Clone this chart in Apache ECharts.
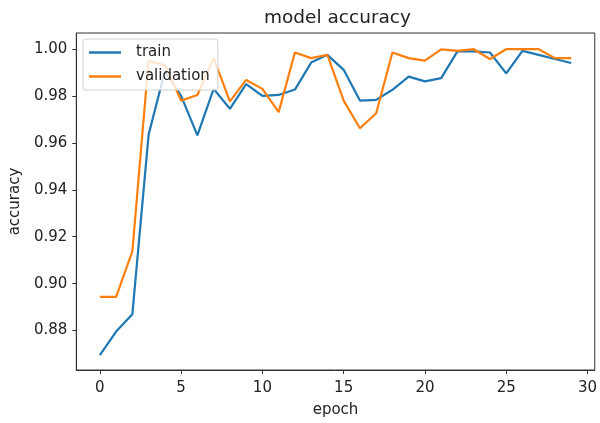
<!DOCTYPE html>
<html>
<head>
<meta charset="utf-8">
<script src="https://cdn.jsdelivr.net/npm/echarts@6/dist/echarts.min.js"></script>
<style>
html,body{margin:0;padding:0;background:#fff;}
#chart{width:600px;height:423px;}
</style>
</head>
<body>
<div id="chart"></div>
<script>
const epochs = Array.from({length: 30}, (_, i) => i);
const trainAcc = [0.8695, 0.8796, 0.8870, 0.9635, 0.9905, 0.9800, 0.9632, 0.9830, 0.9745, 0.9850,
  0.9800, 0.9804, 0.9827, 0.9942, 0.9975, 0.9911, 0.9780, 0.9783, 0.9826, 0.9882,
  0.9862, 0.9876, 0.9990, 0.9990, 0.9985, 0.9896, 0.9992, 0.9975, 0.9957, 0.9940];
const valAcc = [0.8944, 0.8944, 0.9138, 0.9950, 0.9930, 0.9780, 0.9804, 0.9961, 0.9777, 0.9868,
  0.9830, 0.9731, 0.9985, 0.9961, 0.9975, 0.9780, 0.9662, 0.9726, 0.9985, 0.9961,
  0.9950, 0.9998, 0.9992, 0.9999, 0.9957, 0.9999, 0.9999, 0.9999, 0.9961, 0.9961];
const xTicks = [0, 5, 10, 15, 20, 25, 30];
const yTicks = [0.88, 0.90, 0.92, 0.94, 0.96, 0.98, 1.00];
const titleText = 'model accuracy';
const xName = 'epoch';
const yName = 'accuracy';
const seriesNames = ['train', 'validation'];

const FONT = 'DejaVu Sans';
const chart = echarts.init(document.getElementById('chart'), null, {renderer: 'canvas'});
const pair = arr => arr.map((v, i) => [epochs[i], v]);
chart.setOption({
  animation: false,
  backgroundColor: '#fff',
  textStyle: {fontFamily: FONT},
  grid: {left: 76, right: 2, top: 33, bottom: 50.5, show: true, borderColor: '#333', borderWidth: 1, backgroundColor: 'transparent'},
  graphic: [{
    type: 'text', x: 337.5, y: 18,
    style: {text: titleText, font: '18.5px "DejaVu Sans"', fill: '#222', align: 'center', verticalAlign: 'middle'}
  }],
  legend: {
    orient: 'vertical', left: 83, top: 39,
    data: seriesNames,
    icon: 'rect', itemWidth: 32, itemHeight: 2.5, itemGap: 9,
    padding: [6, 8, 6, 6],
    borderColor: '#d0d0d0', borderWidth: 1, borderRadius: 3,
    backgroundColor: 'rgba(255,255,255,0.8)',
    textStyle: {fontFamily: FONT, fontSize: 15, color: '#222', padding: [0, 0, 0, 10]}
  },
  xAxis: {
    type: 'value', min: -1.45, max: 30.45,
    name: xName, nameLocation: 'middle', nameGap: 33,
    nameTextStyle: {fontFamily: FONT, fontSize: 15, color: '#222'},
    splitLine: {show: false},
    axisLine: {show: true, onZero: false, lineStyle: {color: '#333', width: 1}},
    axisTick: {show: true, inside: false, length: 4, customValues: xTicks, lineStyle: {color: '#333'}},
    axisLabel: {show: true, customValues: xTicks, fontFamily: FONT, fontSize: 15, color: '#222', margin: 11}
  },
  yAxis: {
    type: 'value', min: 0.8632, max: 1.0068,
    name: yName, nameLocation: 'middle', nameGap: 50, nameRotate: 90,
    nameTextStyle: {fontFamily: FONT, fontSize: 15, color: '#222'},
    splitLine: {show: false},
    axisLine: {show: true, onZero: false, lineStyle: {color: '#333', width: 1}},
    axisTick: {show: true, inside: false, length: 4, customValues: yTicks, lineStyle: {color: '#333'}},
    axisLabel: {show: true, customValues: yTicks, fontFamily: FONT, fontSize: 15, color: '#222', margin: 9,
      formatter: v => v.toFixed(2)}
  },
  series: [
    {name: seriesNames[0], type: 'line', data: pair(trainAcc), showSymbol: false, symbol: 'none',
      lineStyle: {color: '#1f77b4', width: 2.2}, itemStyle: {color: '#1f77b4'}, z: 2},
    {name: seriesNames[1], type: 'line', data: pair(valAcc), showSymbol: false, symbol: 'none',
      lineStyle: {color: '#ff7f0e', width: 2.2}, itemStyle: {color: '#ff7f0e'}, z: 3}
  ]
});
</script>
</body>
</html>
